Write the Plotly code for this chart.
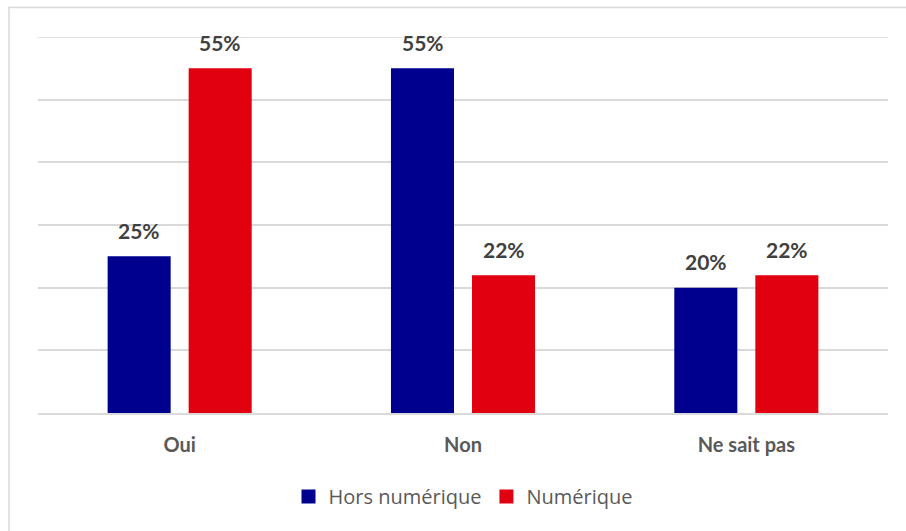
import plotly.graph_objects as go

categories = ["Oui", "Non", "Ne sait pas"]
hors_numerique = [25, 55, 20]
numerique = [55, 22, 22]
series_names = ["Hors numérique", "Numérique"]
series_colors = ["#00008F", "#E1000F"]
y_max = 60

fig = go.Figure()
for name, vals, col in zip(series_names, [hors_numerique, numerique], series_colors):
    fig.add_trace(go.Bar(x=categories, y=vals, name=name, marker_color=col,
                         marker_line_width=0, showlegend=False))
# legend entries with larger square symbols
for name, col in zip(series_names, series_colors):
    fig.add_trace(go.Scatter(x=[None], y=[None], mode="markers", name=name,
                             marker=dict(symbol="square", size=14, color=col)))

# value labels above bars
for i, vals in enumerate([hors_numerique, numerique]):
    shift = -40.5 if i == 0 else 40.5
    for c, v in zip(categories, vals):
        fig.add_annotation(x=c, y=v, text=f"<b>{v}%</b>", showarrow=False,
                           xshift=shift, yshift=26, yanchor="middle",
                           font=dict(family="Lato", size=21, color="#404040"))

# top gridline (at the range edge)
fig.add_shape(type="line", xref="paper", yref="y", x0=0, x1=1, y0=y_max, y1=y_max,
              line=dict(color="#D9D9D9", width=1.5), layer="below")

# outer chart border
fig.add_shape(type="rect", xref="paper", yref="paper",
              x0=-0.0341, x1=1.2, y0=-0.5, y1=1.0785,
              line=dict(color="#D9D9D9", width=1.5), fillcolor="rgba(0,0,0,0)",
              layer="below")

fig.update_layout(
    width=906, height=531,
    margin=dict(l=38, r=18, t=37, b=118),
    paper_bgcolor="white", plot_bgcolor="white",
    barmode="group", bargap=0.428, bargroupgap=0.222,
    showlegend=True,
    legend=dict(orientation="h", x=0.5, xanchor="center", y=-0.222, yanchor="middle",
                font=dict(family="Open Sans", size=20, color="#595959"),
                itemwidth=30, traceorder="normal"),
    xaxis=dict(showgrid=False, showline=True, linecolor="#D9D9D9", linewidth=1.5,
               ticks="", ticklabelstandoff=13,
               tickfont=dict(family="Lato", size=20, color="#595959", weight="bold")),
    yaxis=dict(range=[0, y_max], dtick=10, showticklabels=False, showgrid=True,
               gridcolor="#D9D9D9", gridwidth=1.5, zeroline=False, showline=False),
)

fig.write_html("out.html")
